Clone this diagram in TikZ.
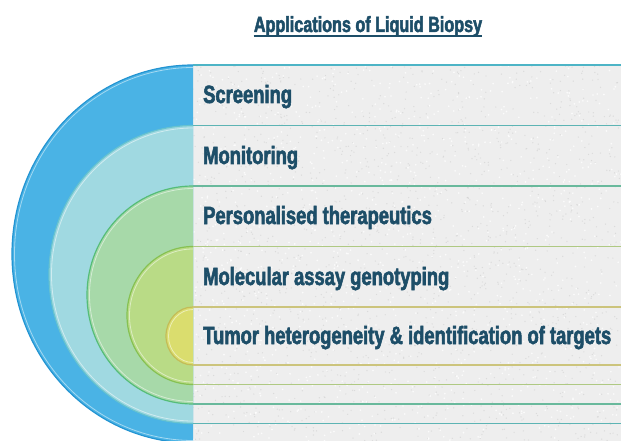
\documentclass[tikz,border=0pt]{standalone}
\usepackage{fontspec}
\newfontfamily\agency{Liberation Sans}[FakeStretch=0.735, BoldFeatures={FakeBold=2.2}]

\definecolor{ringA}{HTML}{4AB3E5}
\definecolor{ringB}{HTML}{A0D9E1}
\definecolor{ringC}{HTML}{A7D9A9}
\definecolor{ringD}{HTML}{B9DB86}
\definecolor{ringE}{HTML}{DADD6E}
\definecolor{edgeA}{HTML}{2394D2}
\definecolor{edgeB}{HTML}{68C3CF}
\definecolor{edgeC}{HTML}{55BD78}
\definecolor{edgeD}{HTML}{86C152}
\definecolor{edgeE}{HTML}{C4BC58}
\definecolor{lineA}{HTML}{4DB4C6}
\definecolor{lineB}{HTML}{5DB4B4}
\definecolor{lineC}{HTML}{69B99C}
\definecolor{lineD}{HTML}{AFC983}
\definecolor{lineE}{HTML}{CCC47C}
\definecolor{inkblue}{HTML}{1D4E68}
\definecolor{granite}{HTML}{EEEEEE}

\tikzset{
  item/.style={anchor=base west, inner sep=0pt, text=inkblue,
    font=\agency\bfseries\fontsize{25}{25}\selectfont},
  heading/.style={anchor=base, inner sep=0pt, text=inkblue,
    font=\agency\bfseries\fontsize{22}{22}\selectfont},
}

\begin{document}
\begin{tikzpicture}[x=1pt, y=-1pt]
				\useasboundingbox (0,0) rectangle (621,441);
				\fill[white] (0,0) rectangle (621,441);
				\fill[granite] (193,65) rectangle (621,441);
				\pgfmathsetseed{11}
				\foreach \k in {1,...,1600} {
					\pgfmathsetmacro\gx{193+428*rnd}
					\pgfmathsetmacro\gy{65+376*rnd}
					\fill[gray!45, opacity=.45] (\gx,\gy) circle (.7);
				}
				\foreach \k in {1,...,1200} {
					\pgfmathsetmacro\gx{193+428*rnd}
					\pgfmathsetmacro\gy{65+376*rnd}
					\fill[white, opacity=.8] (\gx,\gy) circle (.9);
				}
				\foreach \t/\b/\r/\c/\e/\l in {65/443/181/ringA/edgeA/lineA,
						125.5/423.5/144/ringB/edgeB/lineB,
						186/404/106/ringC/edgeC/lineC,
						246.5/384.5/66/ringD/edgeD/lineD,
						307/365/27/ringE/edgeE/lineE} {
					\pgfmathsetmacro\cy{(\t+\b)/2}
					\pgfmathsetmacro\ry{(\b-\t)/2}
					\begin{scope}
						\clip (0,0) rectangle (193,441);
						\filldraw[fill=\c, draw=\e, line width=1.2] (193,\cy) ellipse [x radius=\r, y radius=\ry];
						\draw[white, opacity=.5, line width=.8] (193,\cy) ellipse [x radius=\r-2.5, y radius=\ry-2.5];
					\end{scope}
					\draw[\l, line width=1.3] (193,\t) -- (621,\t);
					\draw[\l, line width=1.3] (193,\b) -- (621,\b);
				}
				\node[heading] (title) at (368,32) {Applications of Liquid Biopsy};
				\draw[inkblue, line width=1.2] ([yshift=-4pt]title.base west) -- ([yshift=-4pt]title.base east);
				\node[item] (scr)  at (203,103) {Screening};
				\node[item] (mon)  at (203,164) {Monitoring};
				\node[item] (pers) at (203,224) {Personalised therapeutics};
				\node[item] (mol)  at (203,285) {Molecular assay genotyping};
				\node[item] (tum)  at (203,344) {Tumor heterogeneity \& identification of targets};
\end{tikzpicture}
\end{document}
